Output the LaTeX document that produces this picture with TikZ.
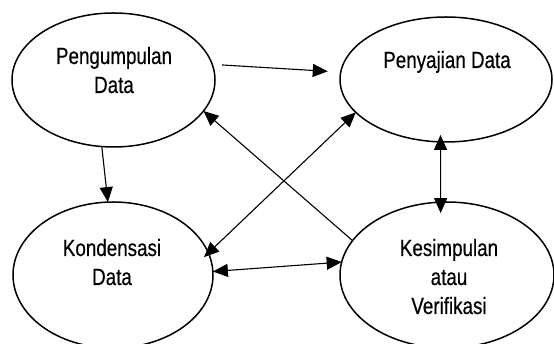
\documentclass[tikz,border=0pt]{standalone}
\usepackage{fontspec}
\setmainfont{Liberation Sans}[FakeStretch=0.8,FakeBold=0.4]
\usetikzlibrary{arrows.meta,shapes.geometric}
\tikzset{
  ell/.style={draw, ellipse, line width=1.5pt, inner sep=0pt, outer sep=0pt},
  lbl/.style={align=center, anchor=base, inner sep=0pt, font=\fontsize{23.5}{29}\selectfont},
  conn/.style={line width=1.1pt, -{Triangle[length=15pt,width=13pt]}},
  dconn/.style={line width=1.1pt, {Triangle[length=15pt,width=13pt]}-{Triangle[length=15pt,width=13pt]}}
}
\begin{document}
\begin{tikzpicture}[x=1pt,y=1pt]
\useasboundingbox (0,0) rectangle (554,344);
\node[ell, minimum width=203pt, minimum height=134pt] (E1) at (113.5,264) {};
\node[ell, minimum width=212pt, minimum height=125pt] (E2) at (446,264.5) {};
\node[ell, minimum width=200pt, minimum height=146pt] (E3) at (113,69) {};
\node[ell, minimum width=214pt, minimum height=146pt] (E4) at (447,69) {};
\node[lbl] (T1) at (114,251) {Pengumpulan\\Data};
\node[lbl] (T2) at (447,276) {Penyajian Data};
\node[lbl] (T3) at (112,59) {Kondensasi\\Data};
\node[lbl] (T4) at (449,30) {Kesimpulan\\atau\\Verifikasi};
\draw[conn, shorten <=10pt, shorten >=13pt] (E1.9.4) -- (E2.176.4);
\draw[conn] (E1.260) -- (E3.94.9);
\draw[conn] (E4.160.8) -- (E1.341.1);
\draw[dconn, shorten >=-6pt] (E2.200.7) -- (E3.13.8);
\draw[dconn, shorten <=-7pt, shorten >=-11pt] (E2.265) -- (E4.95.5);
\draw[dconn] (E3.2.8) -- (E4.173);
\end{tikzpicture}
\end{document}
